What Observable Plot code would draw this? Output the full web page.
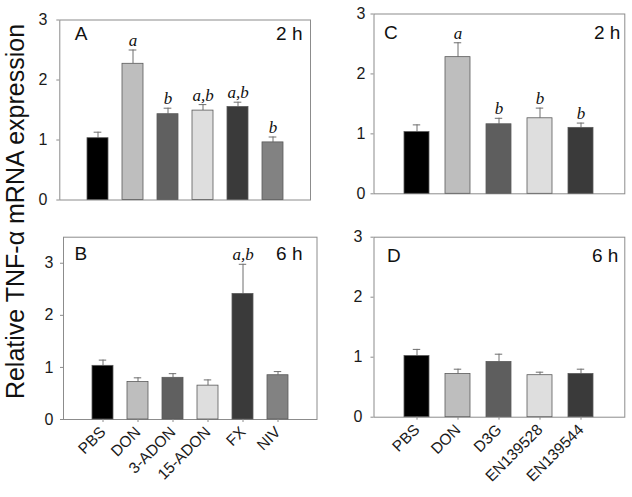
<!DOCTYPE html>
<html>
<head>
<meta charset="utf-8">
<script src="https://cdn.jsdelivr.net/npm/d3@7"></script>
<script src="https://cdn.jsdelivr.net/npm/@observablehq/plot@0.6"></script>
<style>
  html, body { margin: 0; padding: 0; background: #fff; }
  #wrap { position: relative; width: 632px; height: 497px; overflow: hidden; background: #fff; }
  #wrap svg { position: absolute; left: 0; top: 0; }
  #ytitle { position: absolute; left: 0; top: 0; font-family: "Liberation Sans", Arial, sans-serif;
            font-size: 25px; color: #111; white-space: nowrap; line-height: 1; }
</style>
</head>
<body>
<div id="wrap"><div id="ytitle">Relative TNF-α mRNA expression</div></div>
<script>
// ---- data ----
const catsAB = ["PBS", "DON", "3-ADON", "15-ADON", "FX", "NIV"];
const colorsAB = ["#000000", "#bebebe", "#606060", "#dedede", "#3a3a3a", "#828282"];
const meanA = [1.03, 2.27, 1.43, 1.49, 1.55, 0.96];
const errA  = [0.10, 0.23, 0.10, 0.10, 0.08, 0.09];
const sigA  = ["", "a", "b", "a,b", "a,b", "b"];
const meanB = [1.03, 0.72, 0.80, 0.65, 2.41, 0.85];
const errB  = [0.11, 0.08, 0.08, 0.11, 0.57, 0.07];
const sigB  = ["", "", "", "", "a,b", ""];

const catsCD = ["PBS", "DON", "D3G", "EN139528", "EN139544"];
const colorsCD = ["#000000", "#bebebe", "#5e5e5e", "#dedede", "#3a3a3a"];
const meanC = [1.03, 2.28, 1.16, 1.26, 1.10];
const errC  = [0.12, 0.24, 0.10, 0.17, 0.08];
const sigC  = ["", "a", "b", "b", "b"];
const meanD = [1.02, 0.72, 0.92, 0.70, 0.72];
const errD  = [0.11, 0.08, 0.13, 0.05, 0.08];
const sigD  = ["", "", "", "", ""];

const yTicks = [0, 1, 2, 3];

const W = 632, H = 497;
const FONT = "Liberation Sans, Arial, sans-serif";

function panel(cfg) {
  const rows = cfg.cats.map((c, i) => ({cat: c, mean: cfg.mean[i], top: cfg.mean[i] + cfg.err[i], sig: cfg.sig[i], color: cfg.colors[i]}));
  const n = cfg.cats.length;
  const innerW = cfg.right - cfg.left;
  const step = innerW / (n - cfg.pi + 2 * cfg.po);
  const bw = step * (1 - cfg.pi);
  const capInset = Math.max(0, (bw - 8) / 2);
  const marks = [
    Plot.frame({stroke: "#8c8c8c", strokeWidth: 1}),
    Plot.axisY(yTicks, {tickSize: 3, tickPadding: cfg.tpad, tickFormat: d3.format("d"), fontSize: 16, stroke: "#8c8c8c", fill: "#1a1a1a", label: null}),
    Plot.ruleX(rows, {x: "cat", y1: "mean", y2: "top", stroke: "#6e6e6e", strokeWidth: 1}),
    Plot.tickY(rows, {x: "cat", y: "top", stroke: "#6e6e6e", strokeWidth: 1, insetLeft: capInset, insetRight: capInset}),
    Plot.barY(rows, {x: "cat", y: "mean", fill: "color", stroke: "#5a5a5a", strokeWidth: 0.8}),
    Plot.text(rows, {x: "cat", y: "top", text: "sig", dy: -4, lineAnchor: "bottom", fontFamily: "Liberation Serif, Times New Roman, serif", fontStyle: "italic", fontSize: 17, fill: "#111"}),
    Plot.text([cfg.label], {text: d => d, frameAnchor: "top-left", textAnchor: "start", lineAnchor: "middle", dx: cfg.labDx, dy: cfg.labDy, fontSize: 19, fill: "#111"}),
    Plot.text([cfg.time], {text: d => d, frameAnchor: "top-right", textAnchor: "end", lineAnchor: "middle", dx: -cfg.timeDx, dy: cfg.labDy, fontSize: 19, fill: "#111"})
  ];
  if (cfg.xaxis) {
    marks.push(Plot.axisX({tickRotate: -45, tickSize: 3, tickPadding: 7, fontSize: 15.5, stroke: "#8c8c8c", fill: "#1a1a1a", label: null}));
  }
  return Plot.plot({
    width: W, height: H,
    marginLeft: cfg.left, marginRight: W - cfg.right, marginTop: cfg.top, marginBottom: H - cfg.bottom,
    x: {domain: cfg.cats, paddingInner: cfg.pi, paddingOuter: cfg.po, axis: null},
    y: {domain: [0, cfg.ymax], axis: null},
    color: {type: "identity"},
    style: {background: "transparent", fontFamily: FONT, overflow: "visible"},
    marks
  });
}

const wrap = document.getElementById("wrap");
wrap.appendChild(panel({cats: catsAB, colors: colorsAB, mean: meanA, err: errA, sig: sigA, label: "A", time: "2 h",
  left: 59.3, right: 310, top: 19.5, bottom: 199.5, ymax: 3, pi: 0.4, po: 0.73, tpad: 9.5, labDx: 15, labDy: 14, timeDx: 8, xaxis: false}));
wrap.appendChild(panel({cats: catsCD, colors: colorsCD, mean: meanC, err: errC, sig: sigC, label: "C", time: "2 h",
  left: 373.5, right: 624.3, top: 13.5, bottom: 193.3, ymax: 3, pi: 0.384, po: 0.716, tpad: 5.5, labDx: 10, labDy: 19, timeDx: 4.5, xaxis: false}));
wrap.appendChild(panel({cats: catsAB, colors: colorsAB, mean: meanB, err: errB, sig: sigB, label: "B", time: "6 h",
  left: 63, right: 316.5, top: 236.7, bottom: 419, ymax: 3.5, pi: 0.4, po: 0.73, tpad: 7, labDx: 11, labDy: 16.5, timeDx: 14.5, xaxis: true}));
wrap.appendChild(panel({cats: catsCD, colors: colorsCD, mean: meanD, err: errD, sig: sigD, label: "D", time: "6 h",
  left: 373.5, right: 624.3, top: 236.7, bottom: 416.7, ymax: 3, pi: 0.384, po: 0.716, tpad: 8.5, labDx: 13, labDy: 18.5, timeDx: 6.5, xaxis: true}));

// y title, rotated, centred at (x≈16, y≈211)
const yt = document.getElementById("ytitle");
wrap.appendChild(yt);
const r = yt.getBoundingClientRect();
const cx = 16, cy = 211;
yt.style.left = (cx - r.width / 2) + "px";
yt.style.top = (cy - r.height / 2) + "px";
yt.style.transform = "rotate(-90deg)";
</script>
</body>
</html>
